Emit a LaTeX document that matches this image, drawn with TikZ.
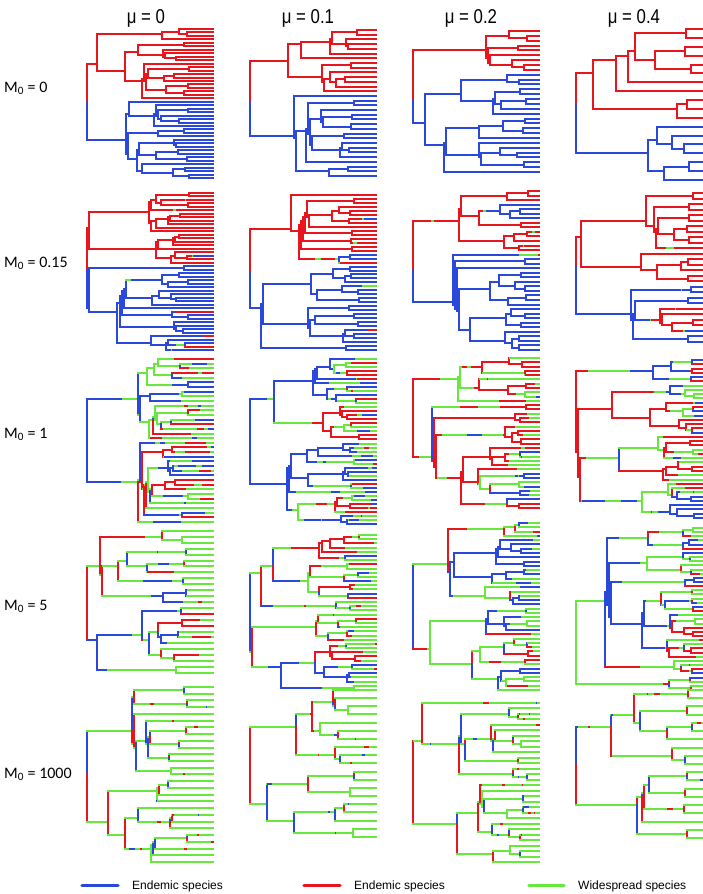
\documentclass[tikz,border=0pt]{standalone}
\usepackage{fontspec}
\setmainfont{Liberation Sans}
\newfontfamily\lblfont{Carlito}
\definecolor{cR}{HTML}{E8161C}
\definecolor{cB}{HTML}{2B48DD}
\definecolor{cG}{HTML}{66E83C}
\tikzset{
  brline/.style={line width=2pt, line cap=rect},
  legline/.style={line width=3.5pt, line cap=round},
  hdr/.style={anchor=base, inner sep=0pt, xscale=0.84, font=\fontsize{20}{24}\selectfont},
  rowlbl/.style={anchor=base west, inner sep=0pt, font=\lblfont\fontsize{16}{18}\selectfont},
  legtxt/.style={anchor=base west, inner sep=0pt, font=\fontsize{12}{14}\selectfont}
}
\def\cname#1{\ifcase#1 cG\or cR\or cB\or cG\fi}
\def\rEnd{0}\def\rWide{0}\def\pV{0}\def\qG{0}
\newif\ifrootsplit
\newcommand\rowparams[4]{\def\rEnd{#1}\def\rWide{#2}\def\pV{#3}\def\qG{#4}}

\def\branchloop{%
  \ifnum\bc=3 \let\rate\rWide\else\let\rate\rEnd\fi
  \ifdim\rate pt>0pt
    \pgfmathsetmacro\w{-ln(0.001+0.999*rnd)/\rate}%
  \else
    \def\w{9000}%
  \fi
  \pgfmathsetmacro\xnext{\bx+\w}%
  \ifdim\xnext pt<\bxe pt
    \edef\cn{\cname{\bc}}%
    \draw[brline,draw=\cn] (\bx,\by) -- (\xnext,\by);%
    \ifnum\bc=3 \pgfmathtruncatemacro\bc{random(1,2)}\else\def\bc{3}\fi
    \let\bx\xnext
    \expandafter\branchloop
  \else
    \edef\cn{\cname{\bc}}%
    \draw[brline,draw=\cn] (\bx,\by) -- (\bxe,\by);%
    \xdef\brend{\bc}%
  \fi}

\newcommand\clade[5]{%
 \begingroup
 \pgfmathsetmacro\yy{round(\Ytop+(#2+(#3-1)/2)*\dy)}%
 \ifnum#3=1
   \edef\bx{#1}\edef\bxe{\Xend}\edef\by{\yy}\edef\bc{#4}%
   \branchloop
 \else
   \ifnum#5=0
     \edef\xn{#1}%
   \else
     \pgfmathsetmacro\xn{round(max(#1+1.5,\Xend-(\Xend-\Xroot)*pow(ln(#3)/ln(\Ntot),\Pexp)*(0.7+0.6*rnd)))}%
     \pgfmathsetmacro\xn{min(\xn,\Xend-2)}%
   \fi
   \edef\bx{#1}\edef\bxe{\xn}\edef\by{\yy}\edef\bc{#4}%
   \branchloop
   \let\ce\brend
   \ifnum#5=0
     \pgfmathtruncatemacro\na{max(1,min(#3-1,round(\Rfrac*#3)))}%
   \else
     \pgfmathtruncatemacro\na{random(1,#3-1)}%
   \fi
   \pgfmathtruncatemacro\nb{#3-\na}%
   \pgfmathtruncatemacro\fb{#2+\na}%
   \pgfmathsetmacro\ya{round(\Ytop+(#2+(\na-1)/2)*\dy)}%
   \pgfmathsetmacro\yb{round(\Ytop+(\fb+(\nb-1)/2)*\dy)}%
   \let\cva\ce\let\cvb\ce\let\cha\ce\let\chb\ce
   \def\isroot{0}%
   \ifnum#5=0 \ifrootsplit\def\isroot{1}\fi\fi
   \ifnum\isroot=1
     \def\cva{1}\def\cvb{2}\def\cha{1}\def\chb{2}%
   \else
     \ifnum\ce=3
       \pgfmathsetmacro\rr{rnd}%
       \ifdim\rr pt<\pV pt
         \pgfmathtruncatemacro\ecol{random(1,2)}%
         \let\cva\ecol\let\cvb\ecol
         \pgfmathsetmacro\rr{rnd}%
         \ifdim\rr pt<0.25pt \pgfmathtruncatemacro\cvb{3-\ecol}\fi
         \pgfmathsetmacro\rr{rnd}%
         \ifdim\rr pt<\qG pt \def\cha{3}\else\let\cha\ecol\fi
         \pgfmathsetmacro\rr{rnd}%
         \ifdim\rr pt<\qG pt \def\chb{3}\else\pgfmathtruncatemacro\chb{3-\ecol}\fi
       \fi
     \fi
   \fi
   \edef\cn{\cname{\cva}}%
   \draw[brline,draw=\cn] (\xn,\ya) -- (\xn,\yy);%
   \edef\cn{\cname{\cvb}}%
   \draw[brline,draw=\cn] (\xn,\yy) -- (\xn,\yb);%
   \edef\tmp{\noexpand\clade{\xn}{#2}{\na}{\cha}{\the\numexpr#5+1\relax}}\tmp
   \edef\tmp{\noexpand\clade{\xn}{\fb}{\nb}{\chb}{\the\numexpr#5+1\relax}}\tmp
 \fi
 \endgroup}

% #1 Xroot #2 Xend #3 Ytop #4 Ybot #5 ntips #6 seed #7 start colour #8 exponent #9 root split fraction
\newcommand\panel[9]{%
  \pgfmathsetseed{#6}%
  \def\Xroot{#1}\def\Xend{#2}\def\Ytop{#3}\def\Ntot{#5}\def\Pexp{#8}\def\Rfrac{#9}%
  \pgfmathsetmacro\dy{(#4-#3)/(#5-1)}%
  \clade{#1}{0}{#5}{#7}{0}%
}

\begin{document}
\begin{tikzpicture}[x=1pt,y=-1pt]
\useasboundingbox[fill=white] (0,0) rectangle (702,894);

% column headers
\node[hdr] (h1) at (146,23.3) {μ = 0};
\node[hdr] (h2) at (308,23.3) {μ = 0.1};
\node[hdr] (h3) at (471,23.3) {μ = 0.2};
\node[hdr] (h4) at (634,23.3) {μ = 0.4};

% row labels
\node[rowlbl] (m1) at (4,92) {M\textsubscript{0} = 0};
\node[rowlbl] (m2) at (4,267) {M\textsubscript{0} = 0.15};
\node[rowlbl] (m3) at (4,438) {M\textsubscript{0} = 1};
\node[rowlbl] (m4) at (4,610) {M\textsubscript{0} = 5};
\node[rowlbl] (m5) at (4,778) {M\textsubscript{0} = 1000};

% row 1: M0 = 0
\rootsplittrue
\rowparams{0}{0}{0}{0}
\panel{87}{213}{29}{178}{44}{11}{2}{0.8}{0.48}
\panel{250}{376}{30}{176}{32}{12}{2}{1.0}{0.45}
\panel{413}{539}{31}{172}{30}{13}{2}{1.25}{0.3}
\panel{576}{702}{29}{180}{18}{14}{2}{1.5}{0.6}

% row 2: M0 = 0.15
\rowparams{0.003}{0.25}{0.7}{0.3}
\panel{87}{213}{193}{350}{46}{25}{2}{0.8}{0.45}
\panel{250}{376}{195}{350}{40}{22}{2}{1.0}{0.45}
\panel{413}{539}{191}{350}{36}{23}{2}{1.25}{0.4}
\panel{576}{702}{193}{342}{28}{24}{2}{1.5}{0.6}

% row 3: M0 = 1
\rootsplitfalse
\rowparams{0.03}{0.03}{0.6}{0.5}
\panel{87}{213}{359}{522}{36}{31}{2}{0.8}{0.5}
\panel{250}{376}{359}{524}{42}{32}{2}{1.0}{0.5}
\panel{413}{539}{358}{508}{36}{33}{1}{1.25}{0.3}
\panel{576}{702}{360}{518}{38}{34}{1}{1.5}{0.15}

% row 4: M0 = 5
\rowparams{0.04}{0.006}{0.85}{0.6}
\panel{87}{213}{531}{673}{25}{41}{3}{0.8}{0.5}
\panel{250}{376}{535}{690}{38}{42}{3}{1.0}{0.5}
\panel{413}{539}{523}{690}{40}{43}{3}{1.25}{0.5}
\panel{576}{702}{528}{690}{40}{44}{3}{1.5}{0.9}

% row 5: M0 = 1000
\rowparams{0.5}{0.012}{0.9}{0.93}
\panel{87}{213}{687}{862}{27}{51}{3}{0.8}{0.5}
\panel{250}{376}{690}{837}{19}{52}{3}{1.0}{0.5}
\panel{413}{539}{703}{862}{30}{53}{3}{1.25}{0.5}
\panel{576}{702}{690}{838}{19}{54}{3}{1.5}{0.5}

% legend
\coordinate (lb1) at (82,885.5);  \coordinate (lb2) at (118,885.5);
\coordinate (lr1) at (304,885.5); \coordinate (lr2) at (340,885.5);
\coordinate (lg1) at (529,885.5); \coordinate (lg2) at (564,885.5);
\draw[legline,cB] (lb1) -- (lb2);
\draw[legline,cR] (lr1) -- (lr2);
\draw[legline,cG] (lg1) -- (lg2);
\node[legtxt] (t1) at (132,889.5) {Endemic species};
\node[legtxt] (t2) at (354,889.5) {Endemic species};
\node[legtxt] (t3) at (578,889.5) {Widespread species};
\end{tikzpicture}
\end{document}
